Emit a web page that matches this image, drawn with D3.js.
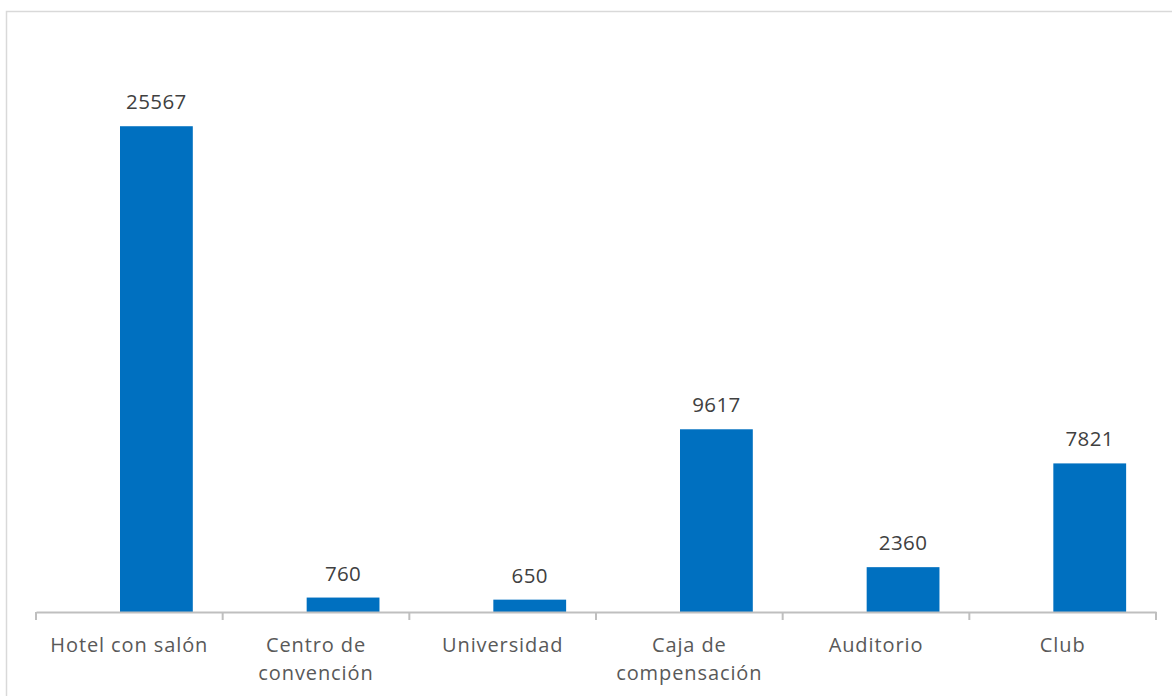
<!DOCTYPE html>
<html lang='es'>
  <head>
    <meta charset='utf-8'>
    <script src='https://cdn.jsdelivr.net/npm/d3@7'></script>
    <style>
      body { margin: 0; background: #fff; }
      svg text { font-family: 'Open Sans', sans-serif; }
    </style>
  </head>
  <body>
    <div id='chart'></div>
    <script type='text/javascript'>

      // data
      var categories = ['Hotel con salón', 'Centro de convención', 'Universidad',
                        'Caja de compensación', 'Auditorio', 'Club'];
      var labelLines = [['Hotel con salón'], ['Centro de', 'convención'], ['Universidad'],
                        ['Caja de', 'compensación'], ['Auditorio'], ['Club']];
      var values = [25567, 760, 650, 9617, 2360, 7821];

      var svgWidth = 1172;
      var svgHeight = 696;

      var axisLeft = 36;
      var axisRight = 1156;
      var baseY = 612;
      var topY = 42;

      var svg = d3.select('#chart').append('svg')
                  .attr('width', svgWidth)
                  .attr('height', svgHeight);

      // outer frame
      svg.append('rect')
         .attr('x', 6.5)
         .attr('y', 11.5)
         .attr('width', svgWidth + 20)
         .attr('height', svgHeight + 20)
         .attr('fill', 'none')
         .attr('stroke', '#d9d9d9')
         .attr('stroke-width', 1.5);

      // scales
      var xScale = d3.scaleBand()
                     .domain(categories)
                     .range([axisLeft, axisRight])
                     .padding(0);

      var yScale = d3.scaleLinear()
                     .domain([0, 30000])
                     .range([baseY, topY]);

      var bw = xScale.bandwidth();

      // bars (sit right of the category centre, like the second slot of a pair)
      svg.selectAll('rect.bar').data(values)
         .enter().append('rect')
         .attr('class', 'bar')
         .attr('x', function(d, i) { return xScale(categories[i]) + bw * 0.45; })
         .attr('y', function(d) { return yScale(d); })
         .attr('width', bw * 0.39)
         .attr('height', function(d) { return baseY - yScale(d); })
         .attr('fill', '#0070c0');

      // value labels
      svg.selectAll('text.value').data(values)
         .enter().append('text')
         .attr('class', 'value')
         .attr('x', function(d, i) { return xScale(categories[i]) + bw * 0.645; })
         .attr('y', function(d) { return yScale(d) - 17; })
         .attr('text-anchor', 'middle')
         .attr('font-size', '20.5px')
         .attr('fill', '#404040')
         .style('letter-spacing', '0.4px')
         .text(function(d) { return d; });

      // x axis
      var xAxis = d3.axisBottom(xScale).tickSize(0).tickFormat('');
      var gx = svg.append('g')
                  .attr('transform', 'translate(0,' + baseY + ')')
                  .call(xAxis);
      gx.select('.domain').attr('stroke', '#bfbfbf').attr('stroke-width', 2);

      // tick marks at category boundaries
      var bounds = categories.map(function(c) { return xScale(c); }).concat([axisRight]);
      gx.selectAll('line.bound').data(bounds)
        .enter().append('line')
        .attr('class', 'bound')
        .attr('x1', function(d) { return d; })
        .attr('x2', function(d) { return d; })
        .attr('y1', 0)
        .attr('y2', 8)
        .attr('stroke', '#bfbfbf')
        .attr('stroke-width', 2);

      // category labels
      var lbl = svg.selectAll('text.cat').data(labelLines)
                   .enter().append('text')
                   .attr('class', 'cat')
                   .attr('text-anchor', 'middle')
                   .attr('font-size', '20px')
                   .attr('fill', '#595959')
                   .style('letter-spacing', '0.9px');

      lbl.each(function(lines, i) {
        var t = d3.select(this);
        lines.forEach(function(line, j) {
          t.append('tspan')
           .attr('x', xScale(categories[i]) + bw / 2)
           .attr('y', 652 + j * 28)
           .text(line);
        });
      });

    </script>
  </body>
</html>
